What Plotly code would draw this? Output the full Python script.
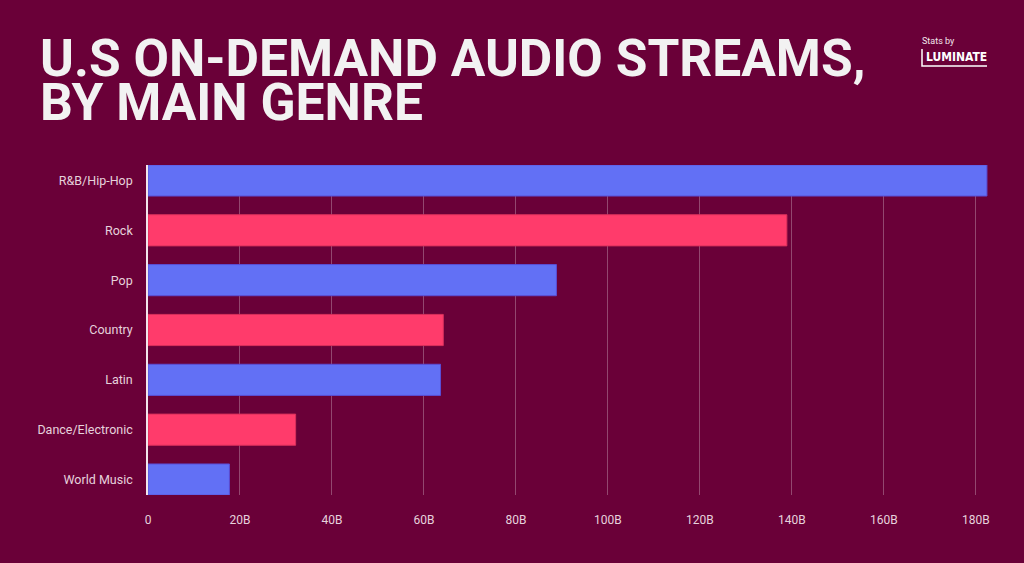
import plotly.graph_objects as go

# streams in billions
genres = ["R&B/Hip-Hop", "Rock", "Pop", "Country", "Latin", "Dance/Electronic", "World Music"]
streams = [182.4, 138.9, 88.8, 64.2, 63.6, 32.1, 17.7]
tick_vals = [0, 20, 40, 60, 80, 100, 120, 140, 160, 180]
tick_text = ["0", "20B", "40B", "60B", "80B", "100B", "120B", "140B", "160B", "180B"]

BG = "#6a0038"
BLUE = "#6270f5"
PINK = "#ff3b6b"
bar_colors = [BLUE if i % 2 == 0 else PINK for i in range(len(genres))]
line_colors = ["#5a4ed6" if i % 2 == 0 else "#d9305c" for i in range(len(genres))]

W, H = 1024, 563
L, R, T, B = 148, 32, 165, 68


def px_x(px):
    return (px - L) / (W - L - R)


def px_y(py):
    return (H - B - py) / (H - T - B)


fig = go.Figure()
fig.add_trace(go.Bar(x=streams, y=genres, orientation="h",
                     marker=dict(color=bar_colors, line=dict(color=line_colors, width=1)),
                     width=0.625, hoverinfo="x+y"))

fig.update_xaxes(range=[0, 183.5], tickvals=tick_vals, ticktext=tick_text,
                 showgrid=True, gridcolor="rgba(255,255,255,0.28)", gridwidth=1,
                 zeroline=False, showline=False,
                 ticks="outside", ticklen=14, tickcolor="rgba(0,0,0,0)",
                 tickfont=dict(family="Roboto", size=12, color="#e6d2dc"))
fig.update_yaxes(range=[6.31, -0.31], showgrid=False, zeroline=False,
                 showline=True, linecolor="#f2e6ec", linewidth=1.5,
                 ticks="outside", ticklen=11, tickcolor="rgba(0,0,0,0)",
                 tickfont=dict(family="Roboto", size=12.5, color="#e6d2dc"))

title_font = dict(family="Roboto", size=51.5, color="#f2f2f2", weight="bold")
fig.add_annotation(text="U.S ON-DEMAND AUDIO STREAMS,", x=px_x(38), y=px_y(58),
                   xref="paper", yref="paper", xanchor="left", yanchor="middle",
                   showarrow=False, font=title_font)
fig.add_annotation(text="BY MAIN GENRE", x=px_x(38), y=px_y(102.5),
                   xref="paper", yref="paper", xanchor="left", yanchor="middle",
                   showarrow=False, font=title_font)

# "Stats by LUMINATE" badge
fig.add_annotation(text="Stats by", x=px_x(920), y=px_y(41),
                   xref="paper", yref="paper", xanchor="left", yanchor="middle",
                   showarrow=False, font=dict(family="Roboto", size=9, color="#f2e6ec"))
fig.add_annotation(text="LUMINATE", x=px_x(924), y=px_y(57),
                   xref="paper", yref="paper", xanchor="left", yanchor="middle",
                   showarrow=False,
                   font=dict(family="DejaVu Sans Condensed", size=12, color="#ffffff", weight="bold"))
fig.add_shape(type="path", xref="paper", yref="paper",
              path="M %f %f L %f %f L %f %f" % (px_x(922), px_y(49), px_x(922), px_y(66),
                                                px_x(987), px_y(66)),
              line=dict(color="#ffffff", width=1.5))

fig.update_layout(width=W, height=H, margin=dict(l=L, r=R, t=T, b=B),
                  paper_bgcolor=BG, plot_bgcolor=BG, showlegend=False,
                  font=dict(family="Roboto"))

fig.write_html("out.html", config={"displayModeBar": False},
               post_script="document.body.style.margin='0';document.body.style.overflow='hidden';"
                           "document.body.style.background='%s';" % BG)
